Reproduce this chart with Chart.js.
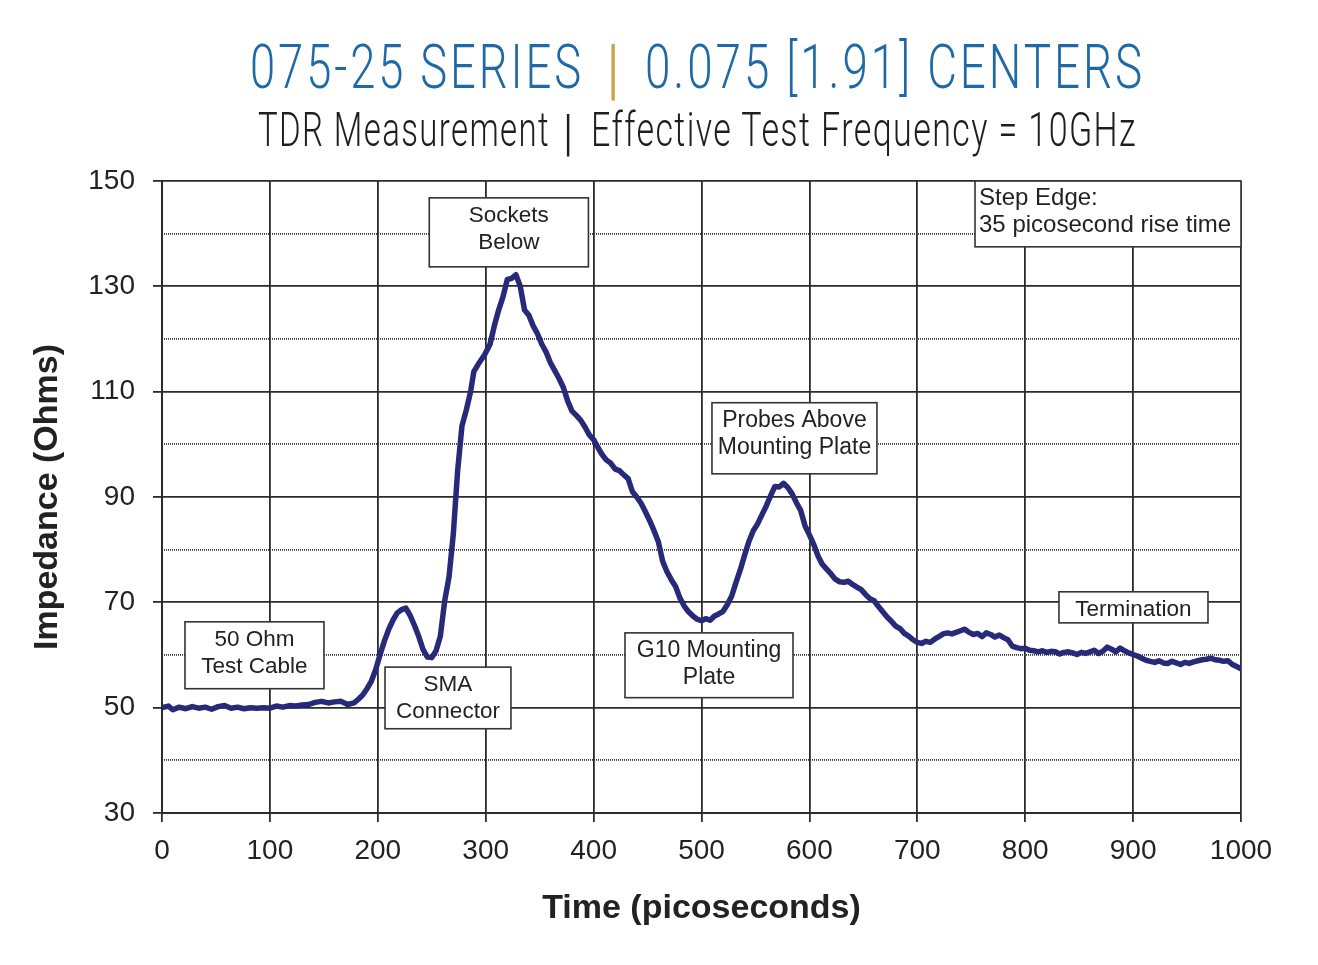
<!DOCTYPE html>
<html>
<head>
<meta charset="utf-8">
<script src="https://cdn.jsdelivr.net/npm/chart.js@4.4.1/dist/chart.umd.min.js"></script>
<style>
  html, body { margin: 0; padding: 0; background: #ffffff; }
  #wrap { position: relative; width: 1318px; height: 965px; overflow: hidden; }
  #chartBox { position: absolute; left: 0; top: 0; width: 1318px; height: 965px; }
  .ttl { position: absolute; white-space: nowrap; transform-origin: 0 50%; line-height: 1; }
  .big { font-family: Roboto, "Liberation Sans", Arial, sans-serif; font-weight: 300; font-size: 62px; color: #1f6aa6; letter-spacing: 4px; }
  .sub { font-family: Roboto, "Liberation Sans", Arial, sans-serif; font-weight: 300; font-size: 48px; color: #1e1e1e; letter-spacing: 2px; }
  .gbar { font-family: Roboto, "Liberation Sans", Arial, sans-serif; font-size: 66px; color: #c9a24e; font-weight: 300; }
  .kbar { font-family: Roboto, "Liberation Sans", Arial, sans-serif; font-size: 50px; color: #1e1e1e; font-weight: 300; }
</style>
</head>
<body>
<div id="wrap">
  <div id="chartBox"><canvas id="c" width="1318" height="965"></canvas></div>
  <div id="t1a" class="ttl big">075-25 SERIES</div>
  <div id="t1b" class="ttl gbar">|</div>
  <div id="t1c" class="ttl big">0.075 [1.91] CENTERS</div>
  <div id="t2a" class="ttl sub">TDR Measurement</div>
  <div id="t2b" class="ttl kbar">|</div>
  <div id="t2c" class="ttl sub">Effective Test Frequency = 10GHz</div>
</div>
<script>
// ---- Data ----
const timesPs = [
  0,6,10,16,22,28,34,40,46,52,58,64,70,76,82,88,94,100,106,112,118,124,130,136,142,148,154,160,166,172,178,
  182,186,190,194,198,202,206,210,214,218,222,226,230,234,238,242,246,250,254,258,262,266,270,274,278,282,286,289,294,299,
  304,308,312,316,320,324,328,332,336,340,344,348,352,356,360,364,368,372,376,380,384,388,392,396,400,
  404,408,412,416,420,424,428,432,436,440,444,448,452,456,460,464,468,472,476,480,484,488,492,496,500,
  504,508,512,516,520,524,528,532,536,540,544,548,552,556,560,564,568,572,576,580,584,588,592,596,600,
  604,608,612,616,620,624,628,632,636,640,644,648,652,656,660,664,668,672,676,680,684,688,692,696,700,
  704,708,712,716,720,724,728,732,736,740,744,748,752,756,760,764,768,772,776,780,784,788,792,796,800,
  804,808,812,816,820,824,828,832,836,840,844,848,852,856,860,864,868,872,876,880,884,888,892,896,900,
  904,908,912,916,920,924,928,932,936,940,944,948,952,956,960,964,968,972,976,980,984,988,992,996,1000
];
const impedanceOhms = [
  50.0,50.3,49.6,50.1,49.8,50.2,49.9,50.1,49.7,50.2,50.4,49.9,50.1,49.8,50.0,49.9,50.0,49.9,50.3,50.1,50.4,50.3,50.5,50.6,51.0,51.2,50.9,51.1,51.2,50.6,50.9,
  51.6,52.4,53.6,55.0,57.2,60.0,62.6,64.8,66.6,68.0,68.6,68.9,67.5,65.6,63.5,61.0,59.6,59.5,60.8,63.6,70.3,74.8,83.0,95.0,103.5,106.5,110.0,113.8,115.5,117.0,
  119.0,122.5,125.5,128.0,131.3,131.5,132.2,130.0,125.5,124.5,122.5,121.0,119.0,117.5,115.5,114.0,112.5,110.8,108.2,106.3,105.5,104.6,103.3,101.8,100.9,
  99.4,98.0,97.0,96.4,95.3,95.0,94.2,93.5,91.0,90.0,88.8,87.2,85.5,83.6,81.5,77.8,75.8,74.3,73.0,70.8,69.3,68.2,67.4,66.8,66.5,
  66.9,66.6,67.4,67.8,68.3,69.6,71.2,73.8,76.2,79.0,81.6,83.6,84.9,86.6,88.3,90.2,92.0,91.9,92.6,91.8,90.6,88.9,87.4,84.5,82.8,
  81.0,78.8,77.2,76.3,75.4,74.4,73.9,73.8,74.0,73.4,72.9,72.4,71.5,70.7,70.3,69.2,68.2,67.2,66.4,65.5,65.0,64.1,63.6,62.9,62.4,
  62.2,62.6,62.4,63.0,63.5,64.0,64.2,64.0,64.3,64.6,64.9,64.3,63.9,64.1,63.5,64.2,63.9,63.4,63.8,63.3,62.9,61.7,61.4,61.2,61.3,
  60.9,60.8,60.6,60.8,60.5,60.7,60.6,60.2,60.5,60.6,60.4,60.1,60.5,60.3,60.6,60.9,60.3,60.7,61.5,61.1,60.6,61.3,60.8,60.4,60.1,
  59.8,59.4,59.0,58.8,58.6,58.9,58.5,58.4,58.8,58.5,58.2,58.6,58.4,58.7,58.9,59.1,59.2,59.4,59.1,59.0,58.8,58.9,58.2,57.8,57.4
];
const xTickValues = [0,100,200,300,400,500,600,700,800,900,1000];
const yMajorTicks = [30,50,70,90,110,130,150];
const yMinorTicks = [40,60,80,100,120,140];

// ---- Titles (HTML text, condensed by horizontal scaling) ----
function fitTitle(id, left, right, centerY) {
  const el = document.getElementById(id);
  const r = el.getBoundingClientRect();
  const s = (right - left) / r.width;
  el.style.left = left + 'px';
  el.style.top = (centerY - r.height / 2) + 'px';
  el.style.transform = 'scaleX(' + s + ')';
}
function placeCenter(id, cx, cy) {
  const el = document.getElementById(id);
  const r = el.getBoundingClientRect();
  el.style.left = (cx - r.width / 2) + 'px';
  el.style.top = (cy - r.height / 2) + 'px';
}
fitTitle('t1a', 250, 584, 67);
placeCenter('t1b', 613, 70);
fitTitle('t1c', 645, 1145, 67);
fitTitle('t2a', 258, 550, 130);
placeCenter('t2b', 568, 133);
fitTitle('t2c', 591, 1137, 130);

// ---- Annotation boxes (data units) ----
const notes = [
  { t0: 247.7, t1: 395.2, vTop: 146.8, vBot: 133.7, lines: ['Sockets', 'Below'], align: 'center', size: 22.5 },
  { t0: 21.3, t1: 150.1, vTop: 66.3, vBot: 53.6, lines: ['50 Ohm', 'Test Cable'], align: 'center', size: 22.5 },
  { t0: 206.7, t1: 323.4, vTop: 57.7, vBot: 46.0, lines: ['SMA', 'Connector'], align: 'center', size: 22.5 },
  { t0: 509.7, t1: 662.6, vTop: 107.9, vBot: 94.4, lines: ['Probes Above', 'Mounting Plate'], align: 'center', size: 23 },
  { t0: 429.1, t1: 584.8, vTop: 64.2, vBot: 51.9, lines: ['G10 Mounting', 'Plate'], align: 'center', size: 23 },
  { t0: 753.5, t1: 1000, vTop: 150, vBot: 137.5, lines: ['Step Edge:', '35 picosecond rise time'], align: 'left', size: 24 },
  { t0: 831.3, t1: 969.4, vTop: 72.0, vBot: 66.1, lines: ['Termination'], align: 'center', size: 22.5 }
];

const notePlugin = {
  id: 'notes',
  afterDatasetsDraw(chart) {
    const ctx = chart.ctx, xs = chart.scales.x, ys = chart.scales.y;
    ctx.save();
    ctx.textBaseline = 'middle';
    notes.forEach(n => {
      const x0 = xs.getPixelForValue(n.t0), x1 = xs.getPixelForValue(n.t1);
      const y0 = ys.getPixelForValue(n.vTop), y1 = ys.getPixelForValue(n.vBot);
      ctx.fillStyle = '#ffffff';
      ctx.fillRect(x0, y0, x1 - x0, y1 - y0);
      ctx.lineWidth = 1.6;
      ctx.strokeStyle = '#333333';
      ctx.strokeRect(x0, y0, x1 - x0, y1 - y0);
      ctx.fillStyle = '#222222';
      ctx.font = n.size + 'px "Liberation Sans", Arial, sans-serif';
      n.lines.forEach((s, i) => {
        const y = y0 + 17.5 + i * 27;
        if (n.align === 'left') { ctx.textAlign = 'left'; ctx.fillText(s, x0 + 4, y); }
        else { ctx.textAlign = 'center'; ctx.fillText(s, (x0 + x1) / 2, y); }
      });
    });
    ctx.restore();
  }
};

const pts = timesPs.map((t, i) => ({ x: t, y: impedanceOhms[i] }));
const FONT = '"Liberation Sans", Arial, sans-serif';

new Chart(document.getElementById('c'), {
  type: 'line',
  data: {
    datasets: [{
      data: pts,
      borderColor: '#262a78',
      borderWidth: 5.5,
      pointRadius: 0,
      tension: 0,
      borderJoinStyle: 'round',
      borderCapStyle: 'round'
    }]
  },
  options: {
    responsive: false,
    animation: false,
    events: [],
    layout: { padding: { left: 0, top: 181, right: 77, bottom: 0 } },
    plugins: { legend: { display: false }, tooltip: { enabled: false }, title: { display: false } },
    scales: {
      x: {
        type: 'linear', min: 0, max: 1000,
        afterBuildTicks: s => { s.ticks = xTickValues.map(v => ({ value: v })); },
        afterFit: s => { s.height = 152; },
        grid: { color: '#2b2b2b', lineWidth: 1.8, tickLength: 9, tickColor: '#2b2b2b', tickWidth: 1.8 },
        border: { color: '#2b2b2b', width: 2 },
        ticks: { color: '#222222', padding: 12, maxRotation: 0, callback: v => String(v), font: { family: FONT, size: 28 } },
        title: { display: true, text: 'Time (picoseconds)', color: '#222222', padding: { top: 0, bottom: 36 },
                 font: { family: FONT, size: 34, weight: 'bold' } }
      },
      y: {
        type: 'linear', min: 30, max: 150, position: 'left', weight: 1,
        afterBuildTicks: s => { s.ticks = yMajorTicks.map(v => ({ value: v })); },
        afterFit: s => { s.width = 162; },
        grid: { color: '#2b2b2b', lineWidth: 1.8, tickLength: 9, tickColor: '#2b2b2b', tickWidth: 1.8 },
        border: { color: '#2b2b2b', width: 2 },
        ticks: { color: '#222222', padding: 18, callback: v => String(v), font: { family: FONT, size: 28 } },
        title: { display: true, text: 'Impedance (Ohms)', color: '#222222', padding: { top: 27, bottom: 0 },
                 font: { family: FONT, size: 34, weight: 'bold' } }
      },
      yMinor: {
        type: 'linear', min: 30, max: 150, position: 'left', weight: 0,
        afterBuildTicks: s => { s.ticks = yMinorTicks.map(v => ({ value: v })); },
        afterFit: s => { s.width = 0; },
        grid: { color: '#3a3a3a', lineWidth: 1.8, drawTicks: false },
        border: { display: false, dash: [1, 1] },
        ticks: { display: false }
      }
    }
  },
  plugins: [notePlugin]
});
</script>
</body>
</html>
